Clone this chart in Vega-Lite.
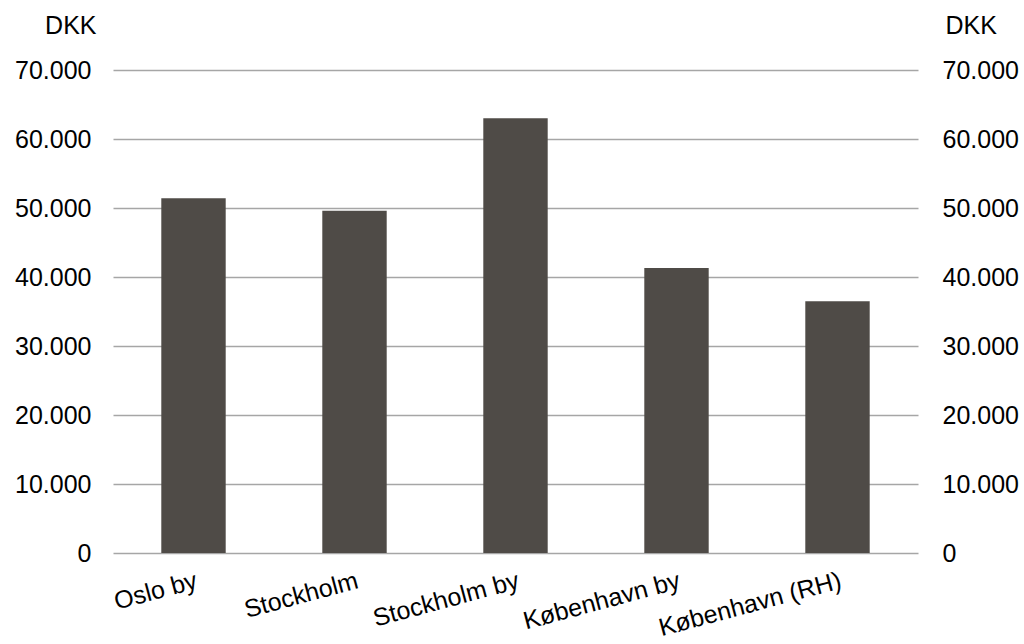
{
  "$schema": "https://vega.github.io/schema/vega-lite/v6.json",
  "width": 805,
  "height": 483,
  "autosize": "none",
  "padding": {"left": 113, "top": 70, "right": 106, "bottom": 91},
  "background": "white",
  "config": {"view": {"stroke": null}, "font": "Liberation Sans"},
  "data": {
    "values": [
      {"city": "Oslo by", "value": 51400},
      {"city": "Stockholm", "value": 49600},
      {"city": "Stockholm by", "value": 63000},
      {"city": "København by", "value": 41300},
      {"city": "København (RH)", "value": 36500}
    ]
  },
  "layer": [
    {
      "mark": {"type": "bar", "color": "#4f4b47"},
      "encoding": {
        "x": {
          "field": "city", "type": "nominal", "sort": null,
          "scale": {"paddingInner": 0.6, "paddingOuter": 0.3},
          "axis": {"title": null, "domain": false, "ticks": false, "tickSize": 0, "labelAngle": -15, "labelAlign": "right", "labelBaseline": "top", "labelPadding": 15, "labelLimit": 0, "labelOverlap": false, "labelFontSize": 25, "labelColor": "#000000", "labelFont": "Liberation Sans"}
        },
        "y": {
          "field": "value", "type": "quantitative",
          "scale": {"domain": [0, 70000], "nice": false},
          "axis": {
            "orient": "left", "values": [0, 10000, 20000, 30000, 40000, 50000, 60000, 70000],
            "labelExpr": "replace(format(datum.value, ','), ',', '.')",
            "domain": false, "ticks": false, "tickSize": 0, "labelPadding": 22,
            "labelFontSize": 25, "labelColor": "#000000", "labelFont": "Liberation Sans",
            "grid": true, "gridColor": "#a6a6a6", "gridWidth": 1.3,
            "title": "DKK", "titleAngle": 0, "titleAlign": "right", "titleBaseline": "alphabetic",
            "titleX": -17, "titleY": -37, "titleFontSize": 25, "titleFontWeight": "normal", "titleColor": "#000000", "titleFont": "Liberation Sans"
          }
        }
      }
    },
    {
      "mark": {"type": "bar", "opacity": 0},
      "encoding": {
        "x": {"field": "city", "type": "nominal", "sort": null},
        "y": {
          "field": "value", "type": "quantitative",
          "axis": {
            "orient": "right", "values": [0, 10000, 20000, 30000, 40000, 50000, 60000, 70000],
            "labelExpr": "replace(format(datum.value, ','), ',', '.')",
            "domain": false, "ticks": false, "tickSize": 0, "labelPadding": 24,
            "labelFontSize": 25, "labelColor": "#000000", "labelFont": "Liberation Sans",
            "grid": false,
            "title": "DKK", "titleAngle": 0, "titleAlign": "left", "titleBaseline": "alphabetic",
            "titleX": 27, "titleY": -37, "titleFontSize": 25, "titleFontWeight": "normal", "titleColor": "#000000", "titleFont": "Liberation Sans"
          }
        }
      }
    }
  ],
  "resolve": {"axis": {"y": "independent"}}
}
